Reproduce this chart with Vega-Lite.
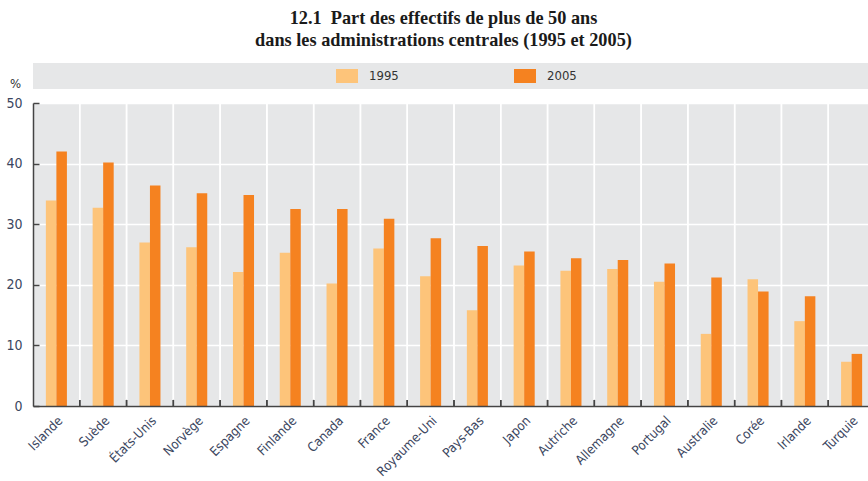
{
  "$schema": "https://vega.github.io/schema/vega-lite/v6.json",
  "autosize": {"type": "pad"},
  "padding": {"left": 5, "top": 8, "right": 0, "bottom": 3},
  "bounds": "flush",
  "spacing": 14,
  "title": {
    "text": ["12.1\u00a0 Part des effectifs de plus de 50 ans", "dans les administrations centrales (1995 et 2005)"],
    "font": "Liberation Serif, DejaVu Serif, serif",
    "fontSize": 18.3,
    "fontWeight": "bold",
    "lineHeight": 22,
    "color": "#1a1a1a",
    "anchor": "middle",
    "dx": 3,
    "offset": 13
  },
  "datasets": {
    "legend": [{"year": 1995}, {"year": 2005}],
    "bars": [
      {"country": "Islande", "year": 1995, "value": 33.9},
      {"country": "Islande", "year": 2005, "value": 42.0},
      {"country": "Suède", "year": 1995, "value": 32.7},
      {"country": "Suède", "year": 2005, "value": 40.2},
      {"country": "États-Unis", "year": 1995, "value": 27.0},
      {"country": "États-Unis", "year": 2005, "value": 36.4},
      {"country": "Norvège", "year": 1995, "value": 26.2},
      {"country": "Norvège", "year": 2005, "value": 35.1},
      {"country": "Espagne", "year": 1995, "value": 22.1},
      {"country": "Espagne", "year": 2005, "value": 34.8},
      {"country": "Finlande", "year": 1995, "value": 25.3},
      {"country": "Finlande", "year": 2005, "value": 32.5},
      {"country": "Canada", "year": 1995, "value": 20.2},
      {"country": "Canada", "year": 2005, "value": 32.5},
      {"country": "France", "year": 1995, "value": 26.0},
      {"country": "France", "year": 2005, "value": 30.9},
      {"country": "Royaume-Uni", "year": 1995, "value": 21.4},
      {"country": "Royaume-Uni", "year": 2005, "value": 27.7},
      {"country": "Pays-Bas", "year": 1995, "value": 15.8},
      {"country": "Pays-Bas", "year": 2005, "value": 26.4},
      {"country": "Japon", "year": 1995, "value": 23.2},
      {"country": "Japon", "year": 2005, "value": 25.5},
      {"country": "Autriche", "year": 1995, "value": 22.3},
      {"country": "Autriche", "year": 2005, "value": 24.4},
      {"country": "Allemagne", "year": 1995, "value": 22.6},
      {"country": "Allemagne", "year": 2005, "value": 24.1},
      {"country": "Portugal", "year": 1995, "value": 20.5},
      {"country": "Portugal", "year": 2005, "value": 23.5},
      {"country": "Australie", "year": 1995, "value": 11.9},
      {"country": "Australie", "year": 2005, "value": 21.2},
      {"country": "Corée", "year": 1995, "value": 20.9},
      {"country": "Corée", "year": 2005, "value": 18.9},
      {"country": "Irlande", "year": 1995, "value": 14.0},
      {"country": "Irlande", "year": 2005, "value": 18.1},
      {"country": "Turquie", "year": 1995, "value": 7.3},
      {"country": "Turquie", "year": 2005, "value": 8.6}
    ]
  },
  "vconcat": [
    {
      "width": 842,
      "height": 26,
      "view": {"fill": "#e6e7e8", "stroke": null},
      "data": {"name": "legend"},
      "layer": [
        {
          "mark": {"type": "point", "filled": true, "opacity": 1, "shape": "M-1,-0.636H1V0.636H-1Z", "size": 484},
          "encoding": {
            "x": {"field": "year", "type": "quantitative", "axis": null, "scale": {"domain": [1977.36, 2024.66], "nice": false, "zero": false}},
            "color": {"field": "year", "type": "nominal", "legend": null, "scale": {"domain": [1995, 2005], "range": ["#fdc47a", "#f58220"]}}
          }
        },
        {
          "mark": {"type": "text", "align": "left", "baseline": "middle", "dx": 22, "fontSize": 13, "color": "#333333", "font": "DejaVu Sans Condensed, Liberation Sans Narrow, sans-serif"},
          "encoding": {
            "x": {"field": "year", "type": "quantitative", "axis": null, "scale": {"domain": [1977.36, 2024.66], "nice": false, "zero": false}},
            "text": {"field": "year", "type": "quantitative", "format": "d"}
          }
        }
      ]
    },
    {
      "width": 842,
      "height": 303,
      "view": {"fill": "#e6e7e8", "stroke": null},
      "data": {"name": "bars"},
      "encoding": {
        "x": {
          "field": "country", "type": "nominal", "sort": null,
          "scale": {
            "domain": ["Islande", "Suède", "États-Unis", "Norvège", "Espagne", "Finlande", "Canada", "France", "Royaume-Uni", "Pays-Bas", "Japon", "Autriche", "Allemagne", "Portugal", "Australie", "Corée", "Irlande", "Turquie"],
            "paddingInner": 0.1, "paddingOuter": 0.05
          },
          "axis": {
            "title": null, "grid": false, "ticks": false, "zindex": 1,
            "domainColor": "#444444", "domainWidth": 1.5,
            "labelAngle": -45, "labelAlign": "right", "labelBaseline": "top",
            "labelPadding": 8, "labelFontSize": 13, "labelColor": "#3b4660",
            "labelFont": "DejaVu Sans Condensed, Liberation Sans Narrow, sans-serif"
          }
        }
      },
      "layer": [
        {
          "transform": [{"filter": "datum.country !== 'Islande'"}],
          "mark": {"type": "rule", "color": "#ffffff", "strokeWidth": 1.5},
          "encoding": {
            "x": {"field": "country", "type": "nominal", "sort": null, "bandPosition": -0.0556}
          }
        },
        {
          "mark": {"type": "bar"},
          "encoding": {
            "xOffset": {"field": "year", "type": "nominal", "scale": {"paddingInner": 0, "paddingOuter": 1}},
            "y": {
              "field": "value", "type": "quantitative",
              "scale": {"domain": [0, 50], "nice": false},
              "axis": {
                "values": [0, 10, 20, 30, 40, 50], "grid": true, "gridColor": "#ffffff", "gridWidth": 1.5,
                "tickSize": -6, "tickColor": "#444444", "tickWidth": 1.5,
                "domainColor": "#444444", "domainWidth": 1.5,
                "labelFontSize": 14, "labelColor": "#3b4660", "labelPadding": 17,
                "labelFont": "DejaVu Sans Condensed, Liberation Sans Narrow, sans-serif",
                "title": "%", "titleAngle": 0, "titleX": -18, "titleY": -20,
                "titleAlign": "center", "titleBaseline": "middle", "titleFontWeight": "normal",
                "titleFontSize": 13, "titleColor": "#333333",
                "titleFont": "DejaVu Sans Condensed, Liberation Sans Narrow, sans-serif"
              }
            },
            "color": {"field": "year", "type": "nominal", "legend": null, "scale": {"domain": [1995, 2005], "range": ["#fdc47a", "#f58220"]}}
          }
        },
        {
          "transform": [{"filter": "datum.country !== 'Islande'"}],
          "mark": {"type": "rule", "color": "#444444", "strokeWidth": 1.5},
          "encoding": {
            "x": {"field": "country", "type": "nominal", "sort": null, "bandPosition": -0.0556},
            "y": {"datum": 0},
            "y2": {"datum": 1}
          }
        }
      ]
    }
  ],
  "config": {"view": {"stroke": null}}
}
